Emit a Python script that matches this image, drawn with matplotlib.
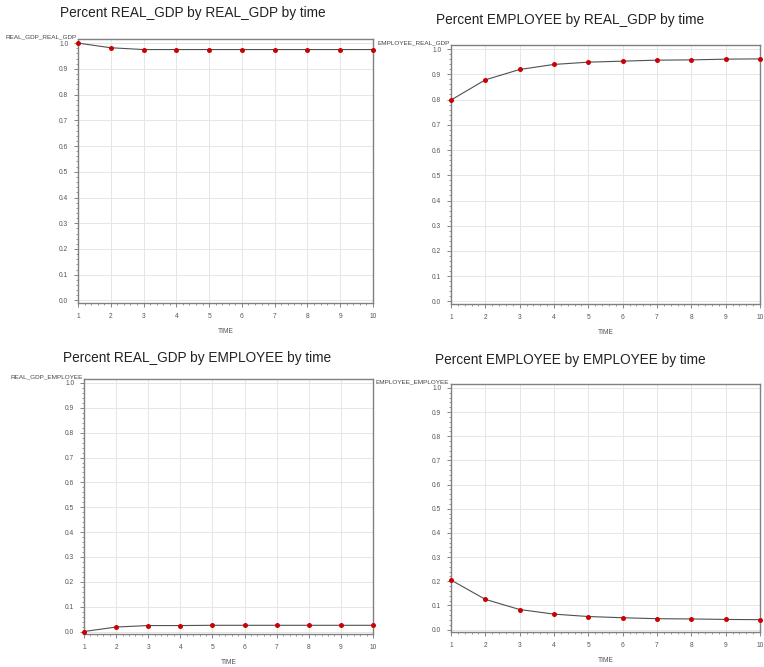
import matplotlib.pyplot as plt
from matplotlib.ticker import AutoMinorLocator

# data
time = [1, 2, 3, 4, 5, 6, 7, 8, 9, 10]
gdp_gdp = [1.0, 0.982, 0.975, 0.975, 0.975, 0.975, 0.975, 0.975, 0.975, 0.975]
emp_gdp = [0.798, 0.878, 0.919, 0.939, 0.948, 0.952, 0.956, 0.957, 0.960, 0.961]
gdp_emp = [0.0, 0.018, 0.024, 0.024, 0.025, 0.025, 0.025, 0.025, 0.025, 0.025]
emp_emp = [0.205, 0.125, 0.083, 0.064, 0.054, 0.049, 0.045, 0.044, 0.042, 0.041]

titles = ['Percent REAL_GDP by REAL_GDP by time',
          'Percent EMPLOYEE by REAL_GDP by time',
          'Percent REAL_GDP by EMPLOYEE by time',
          'Percent EMPLOYEE by EMPLOYEE by time']
ylabels = ['REAL_GDP_REAL_GDP', 'EMPLOYEE_REAL_GDP',
           'REAL_GDP_EMPLOYEE', 'EMPLOYEE_EMPLOYEE']
series = [gdp_gdp, emp_gdp, gdp_emp, emp_emp]

W, H = 764, 667
# axes boxes in pixels: left, top, right, bottom
boxes = [(78, 39, 373, 303), (451, 45, 760, 304),
         (84, 379, 373, 634), (451, 384, 760, 632)]
title_pos = [(193, 13), (570, 20), (197, 358), (570, 360)]

plt.rcParams['font.family'] = ['Liberation Sans', 'DejaVu Sans']
fig = plt.figure(figsize=(W / 100, H / 100), dpi=100)

for i in range(4):
    l, t, r, b = boxes[i]
    ax = fig.add_axes([l / W, 1 - b / H, (r - l) / W, (b - t) / H])
    ax.plot(time, series[i], color='#505050', linewidth=0.8, zorder=3)
    ax.plot(time, series[i], 'o', color='#cc0000', markersize=3.6,
            markeredgewidth=0, zorder=4, clip_on=False)
    ax.set_xlim(1, 10)
    ax.set_ylim(-0.01, 1.016)
    ax.set_xticks(time)
    ax.set_yticks([k / 10 for k in range(11)])
    ax.set_yticklabels(['%.1f' % (k / 10) for k in range(11)])
    ax.xaxis.set_minor_locator(AutoMinorLocator(5))
    ax.yaxis.set_minor_locator(AutoMinorLocator(5))
    ax.grid(which='major', color='#e6e6e6', linewidth=0.7)
    ax.axhline(0, color='#c8c8c8', linewidth=0.7, zorder=1)
    ax.tick_params(which='major', labelsize=4.8, labelcolor='#555555',
                   color='#707070', length=3, width=0.6, pad=4)
    ax.tick_params(which='minor', color='#707070', length=1.5, width=0.5)
    for s in ax.spines.values():
        s.set_color('#808080')
        s.set_linewidth(1.0)
    ax.set_xlabel('TIME', fontsize=4.8, color='#555555', labelpad=6)
    ax.text(-0.005, 1.0, ylabels[i], transform=ax.transAxes, ha='right',
            va='bottom', fontsize=4.6, color='#444444')
    tx, ty = title_pos[i]
    fig.text(tx / W, 1 - ty / H, titles[i], ha='center', va='center',
             fontsize=9.8, color='#222222')

fig.savefig('out.png', dpi=100)
